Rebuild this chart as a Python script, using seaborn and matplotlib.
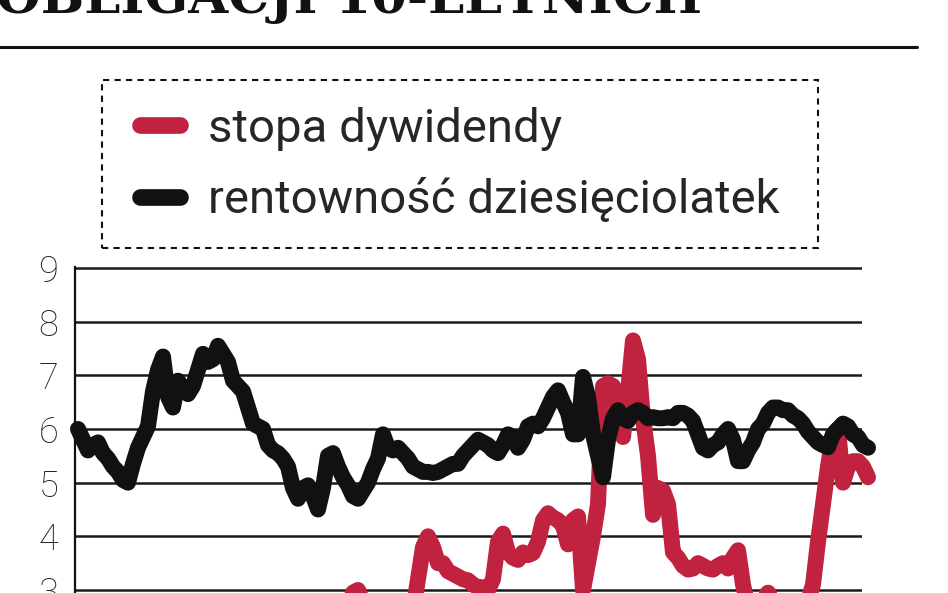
import matplotlib
matplotlib.use("Agg")
import matplotlib.pyplot as plt
from matplotlib.lines import Line2D
from matplotlib.patches import Rectangle
from matplotlib.font_manager import FontProperties
import pandas as pd
import seaborn as sns

# rentownosc obligacji 10-letnich (%), probki co tydzien
rentownosc = [
    6.0, 5.8, 5.6, 5.7, 5.75, 5.55, 5.45, 5.3, 5.2, 5.05,
    5.0, 5.35, 5.65, 5.85, 6.05, 6.7, 7.1, 7.35, 6.6, 6.4,
    6.9, 6.75, 6.65, 6.8, 7.1, 7.4, 7.25, 7.3, 7.55, 7.4,
    7.25, 6.9, 6.8, 6.7, 6.4, 6.1, 6.05, 6.0, 5.7, 5.6,
    5.55, 5.45, 5.3, 4.9, 4.7, 4.9, 4.95, 4.75, 4.5, 4.9,
    5.5, 5.55, 5.3, 5.1, 4.95, 4.75, 4.7, 4.85, 5.0, 5.25,
    5.45, 5.9, 5.65, 5.6, 5.65, 5.55, 5.45, 5.3, 5.25, 5.2,
    5.2, 5.18, 5.2, 5.25, 5.3, 5.35, 5.35, 5.5, 5.6, 5.7,
    5.8, 5.75, 5.7, 5.6, 5.55, 5.7, 5.9, 5.85, 5.65, 5.8,
    6.05, 6.1, 6.05, 6.2, 6.4, 6.6, 6.72, 6.5, 6.3, 5.9,
    5.9, 6.97, 6.6, 5.9, 5.5, 5.1, 5.8, 6.2, 6.35, 6.2,
    6.15, 6.3, 6.35, 6.3, 6.2, 6.22, 6.2, 6.2, 6.22, 6.2,
    6.3, 6.3, 6.25, 6.15, 5.9, 5.65, 5.6, 5.7, 5.75, 5.9,
    6.0, 5.8, 5.4, 5.4, 5.6, 5.75, 6.0, 6.1, 6.3, 6.4,
    6.4, 6.35, 6.35, 6.25, 6.2, 6.1, 5.95, 5.85, 5.75, 5.7,
    5.66, 5.9, 6.0, 6.1, 6.05, 5.9, 5.85, 5.7, 5.65,
]

# stopa dywidendy (%)
stopa = [
    2.4, 2.4, 2.5, 2.4, 2.3, 2.3, 2.4, 2.5, 2.5, 2.4,
    2.3, 2.2, 2.2, 2.1, 2.0, 1.9, 1.8, 1.8, 1.9, 1.9,
    1.8, 1.8, 1.9, 1.9, 1.8, 1.8, 1.8, 1.9, 1.9, 2.0,
    2.0, 2.1, 2.2, 2.3, 2.4, 2.4, 2.5, 2.5, 2.5, 2.6,
    2.6, 2.6, 2.6, 2.5, 2.6, 2.6, 2.5, 2.6, 2.6, 2.6,
    2.6, 2.6, 2.6, 2.6, 2.7, 2.95, 3.0, 2.8, 2.6, 2.5,
    2.5, 2.6, 2.6, 2.5, 2.6, 2.6, 2.7, 2.6, 3.2, 3.8,
    4.0, 3.8, 3.5, 3.5, 3.35, 3.3, 3.25, 3.2, 3.18, 3.1,
    3.05, 3.05, 3.0, 3.2, 3.9, 4.05, 3.7, 3.6, 3.56, 3.7,
    3.65, 3.69, 3.9, 4.3, 4.43, 4.35, 4.3, 4.2, 3.85, 4.3,
    4.37, 3.0, 3.5, 4.0, 4.6, 6.8, 6.85, 6.8, 6.2, 5.85,
    6.7, 7.65, 7.3, 6.2, 5.5, 4.4, 4.9, 4.85, 4.6, 3.7,
    3.6, 3.45, 3.38, 3.4, 3.5, 3.45, 3.4, 3.38, 3.45, 3.5,
    3.4, 3.6, 3.74, 3.1, 2.7, 2.6, 2.7, 2.85, 2.95, 2.85,
    2.7, 2.6, 2.6, 2.6, 2.6, 2.65, 2.8, 3.1, 3.9, 4.6,
    5.3, 5.9, 6.0, 5.0, 5.3, 5.4, 5.4, 5.3, 5.1,
]

serie = ["stopa dywidendy", "rentowność dziesięciolatek"]
kolory = ["#c1223f", "#111111"]
tydzien = list(range(len(rentownosc)))

df = pd.DataFrame({
    "tydzien": tydzien + tydzien,
    "wartosc": stopa + rentownosc,
    "seria": [serie[0]] * len(stopa) + [serie[1]] * len(rentownosc),
})

sns.set_theme(style="white")
plt.rcParams["font.family"] = ["Roboto", "DejaVu Sans"]

fig = plt.figure(figsize=(9.48, 5.93), dpi=100)
ax = fig.add_axes([0.0791, -0.2664, 0.8302, 0.8163])

sns.lineplot(data=df, x="tydzien", y="wartosc", hue="seria", hue_order=serie,
             palette=kolory, lw=11.5, ax=ax, solid_capstyle="round",
             solid_joinstyle="round", clip_on=False)

ax.set_xlim(-0.6, 156.8)
ax.set_ylim(0, 9.02)
ax.set_yticks(range(3, 10))
ax.set_xticks([])
ax.set_xlabel("")
ax.set_ylabel("")
ax.grid(axis="y", color="#1a1a1a", lw=1.8)
ax.set_axisbelow(True)
for s in ["top", "right", "bottom"]:
    ax.spines[s].set_visible(False)
ax.spines["left"].set_color("#111111")
ax.spines["left"].set_linewidth(1.6)
ax.tick_params(axis="y", length=0, pad=12, labelsize=26, labelcolor="#222222")
for t in ax.get_yticklabels():
    t.set_fontweight("light")

# legenda bez ramki, ramka przerywana rysowana osobno
handles, labels = ax.get_legend_handles_labels()
leg = ax.legend(handles, labels, loc="upper left",
                bbox_to_anchor=(0.1076, 1 - 69 / 593 - 0.2833, 0.7553, 0.2833),
                bbox_transform=fig.transFigure, mode="expand",
                borderaxespad=0, frameon=False,
                handlelength=0.85, handletextpad=0.6, borderpad=0.8,
                labelspacing=0.56,
                prop=FontProperties(family="Roboto", weight="normal", size=34))
for l in leg.get_lines():
    l.set_linewidth(12)
    l.set_solid_capstyle("round")

fig.add_artist(Rectangle((102 / 948, 1 - 248 / 593), 716 / 948, 168 / 593,
                         transform=fig.transFigure, fill=False,
                         edgecolor="#111111", lw=1.5,
                         linestyle=(0, (3, 2.5))))

fig.text(-0.004, 1 - 13 / 593, "OBLIGACJI 10-LETNICH", fontsize=37,
         fontweight="bold", family="DejaVu Serif", va="baseline", ha="left",
         color="#111111")
fig.add_artist(Line2D([0, 917 / 948], [1 - 47 / 593, 1 - 47 / 593],
                      transform=fig.transFigure, color="#111111", lw=2.2))

fig.savefig("out.png", dpi=100)
